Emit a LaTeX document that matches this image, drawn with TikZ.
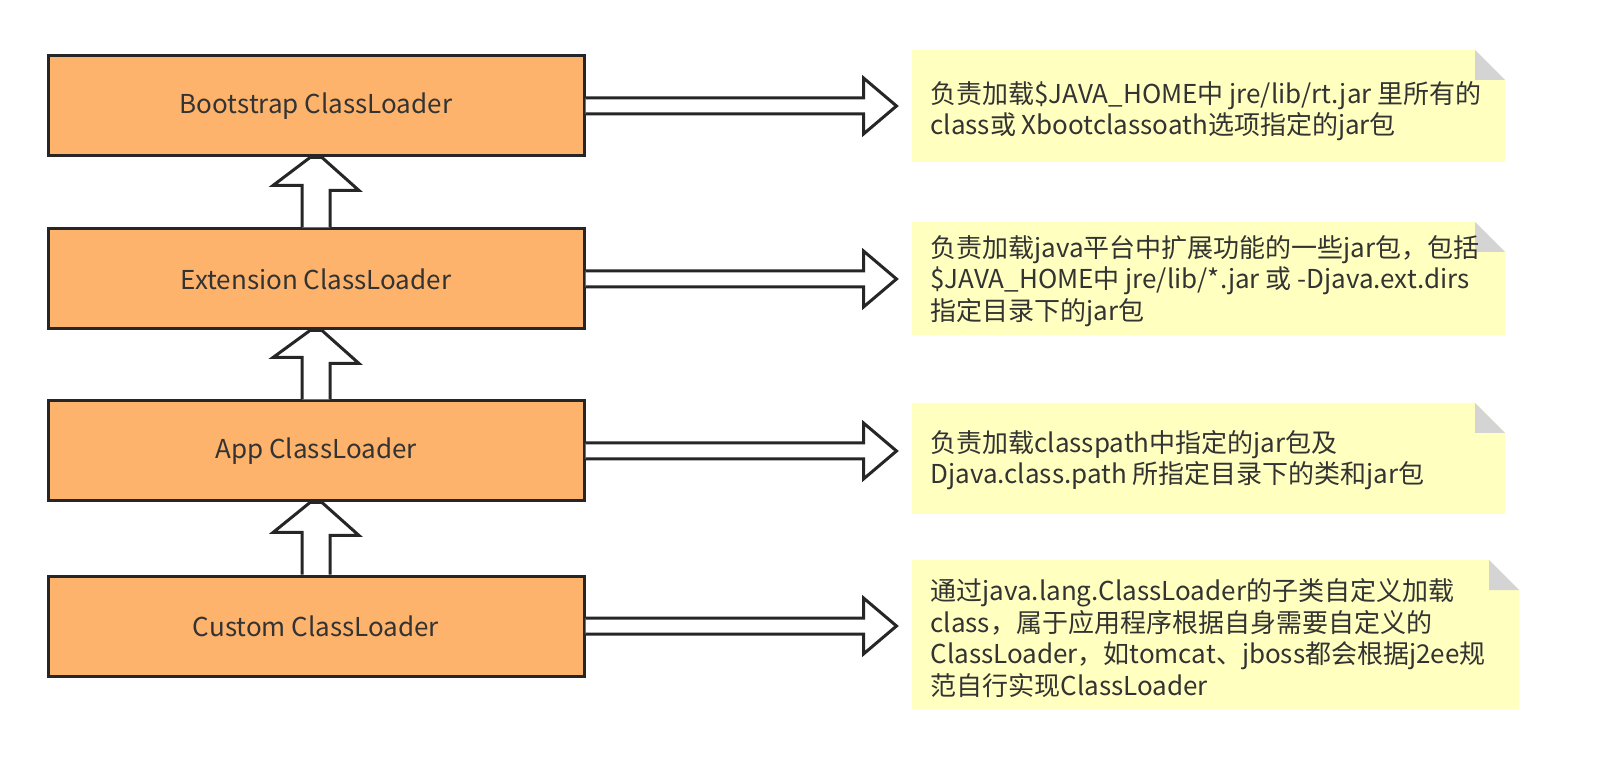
\documentclass[tikz,border=0pt]{standalone}
\usepackage{fontspec}
\setmainfont{Noto Sans CJK SC}
\usetikzlibrary{calc}
\definecolor{boxfill}{HTML}{FDB36B}
\definecolor{notefill}{HTML}{FFFFC0}
\definecolor{fold}{HTML}{D4D4D4}
\definecolor{txt}{HTML}{333333}
\begin{document}
\begin{tikzpicture}[x=0.5pt,y=-0.5pt,
  box/.style={draw=black!85,line width=1.5pt,fill=boxfill,minimum width=268pt,minimum height=50pt,inner sep=0pt,text=txt,font=\fontsize{13}{15}\selectfont},
  notetext/.style={anchor=west,align=left,text=txt,font=\fontsize{13}{15.8}\selectfont,inner sep=0pt},
  harrow/.style={draw=black!85,line width=1.5pt,fill=white,line join=miter}]
\node[box] (b1) at (316,106) {Bootstrap ClassLoader};
\node[box] (b2) at (316,279) {Extension ClassLoader};
\node[box] (b3) at (316,451) {App ClassLoader};
\node[box] (b4) at (316,626) {Custom ClassLoader};
\foreach \lo/\hi in {b2/b1,b3/b2,b4/b3}{
  \draw[harrow] ($(\lo.north)+(-14,0)$) -- ++(0,-42) -- ++(-29,0) -- ($(\hi.south)+(-6,0)$) -- ($(\hi.south)+(6,0)$)
   -- ++(37,33) -- ++(-29,0) -- ($(\lo.north)+(14,0)$);
}
\foreach \b in {b1,b2,b3,b4}{
  \draw[harrow] ($(\b.east)+(0,-8)$) -- ++(278,0) -- ++(0,-20) -- ++(33,28) -- ++(-33,28) -- ++(0,-20) -- ($(\b.east)+(0,8)$);
}
\foreach \x/\y/\xx/\yy in {912/50/1505/162,912/222/1505/335,912/403/1505/514,912/560/1519/709}{
  \fill[notefill] (\x,\y) -- (\xx-30,\y) -- (\xx,\y+30) -- (\xx,\yy) -- (\x,\yy) -- cycle;
  \fill[fold] (\xx-30,\y) -- (\xx,\y+30) -- (\xx-30,\y+30) -- cycle;
}
\coordinate (n1) at (930,111);
\coordinate (n2) at (930,281);
\coordinate (n3) at (930,460);
\coordinate (n4) at (930,638);
\node[notetext] (t1) at (n1) {负责加载\$JAVA\_HOME中 jre/lib/rt.jar 里所有的\\class或 Xbootclassoath选项指定的jar包};
\node[notetext] (t2) at (n2) {负责加载java平台中扩展功能的一些jar包，包括\\\$JAVA\_HOME中 jre/lib/*.jar 或 -Djava.ext.dirs\\指定目录下的jar包};
\node[notetext] (t3) at (n3) {负责加载classpath中指定的jar包及\\Djava.class.path 所指定目录下的类和jar包};
\node[notetext] (t4) at (n4) {通过java.lang.ClassLoader的子类自定义加载\\class，属于应用程序根据自身需要自定义的\\ClassLoader，如tomcat、jboss都会根据j2ee规\\范自行实现ClassLoader};
\pgfresetboundingbox
\useasboundingbox (0,0) rectangle (1600,774);
\end{tikzpicture}
\end{document}
